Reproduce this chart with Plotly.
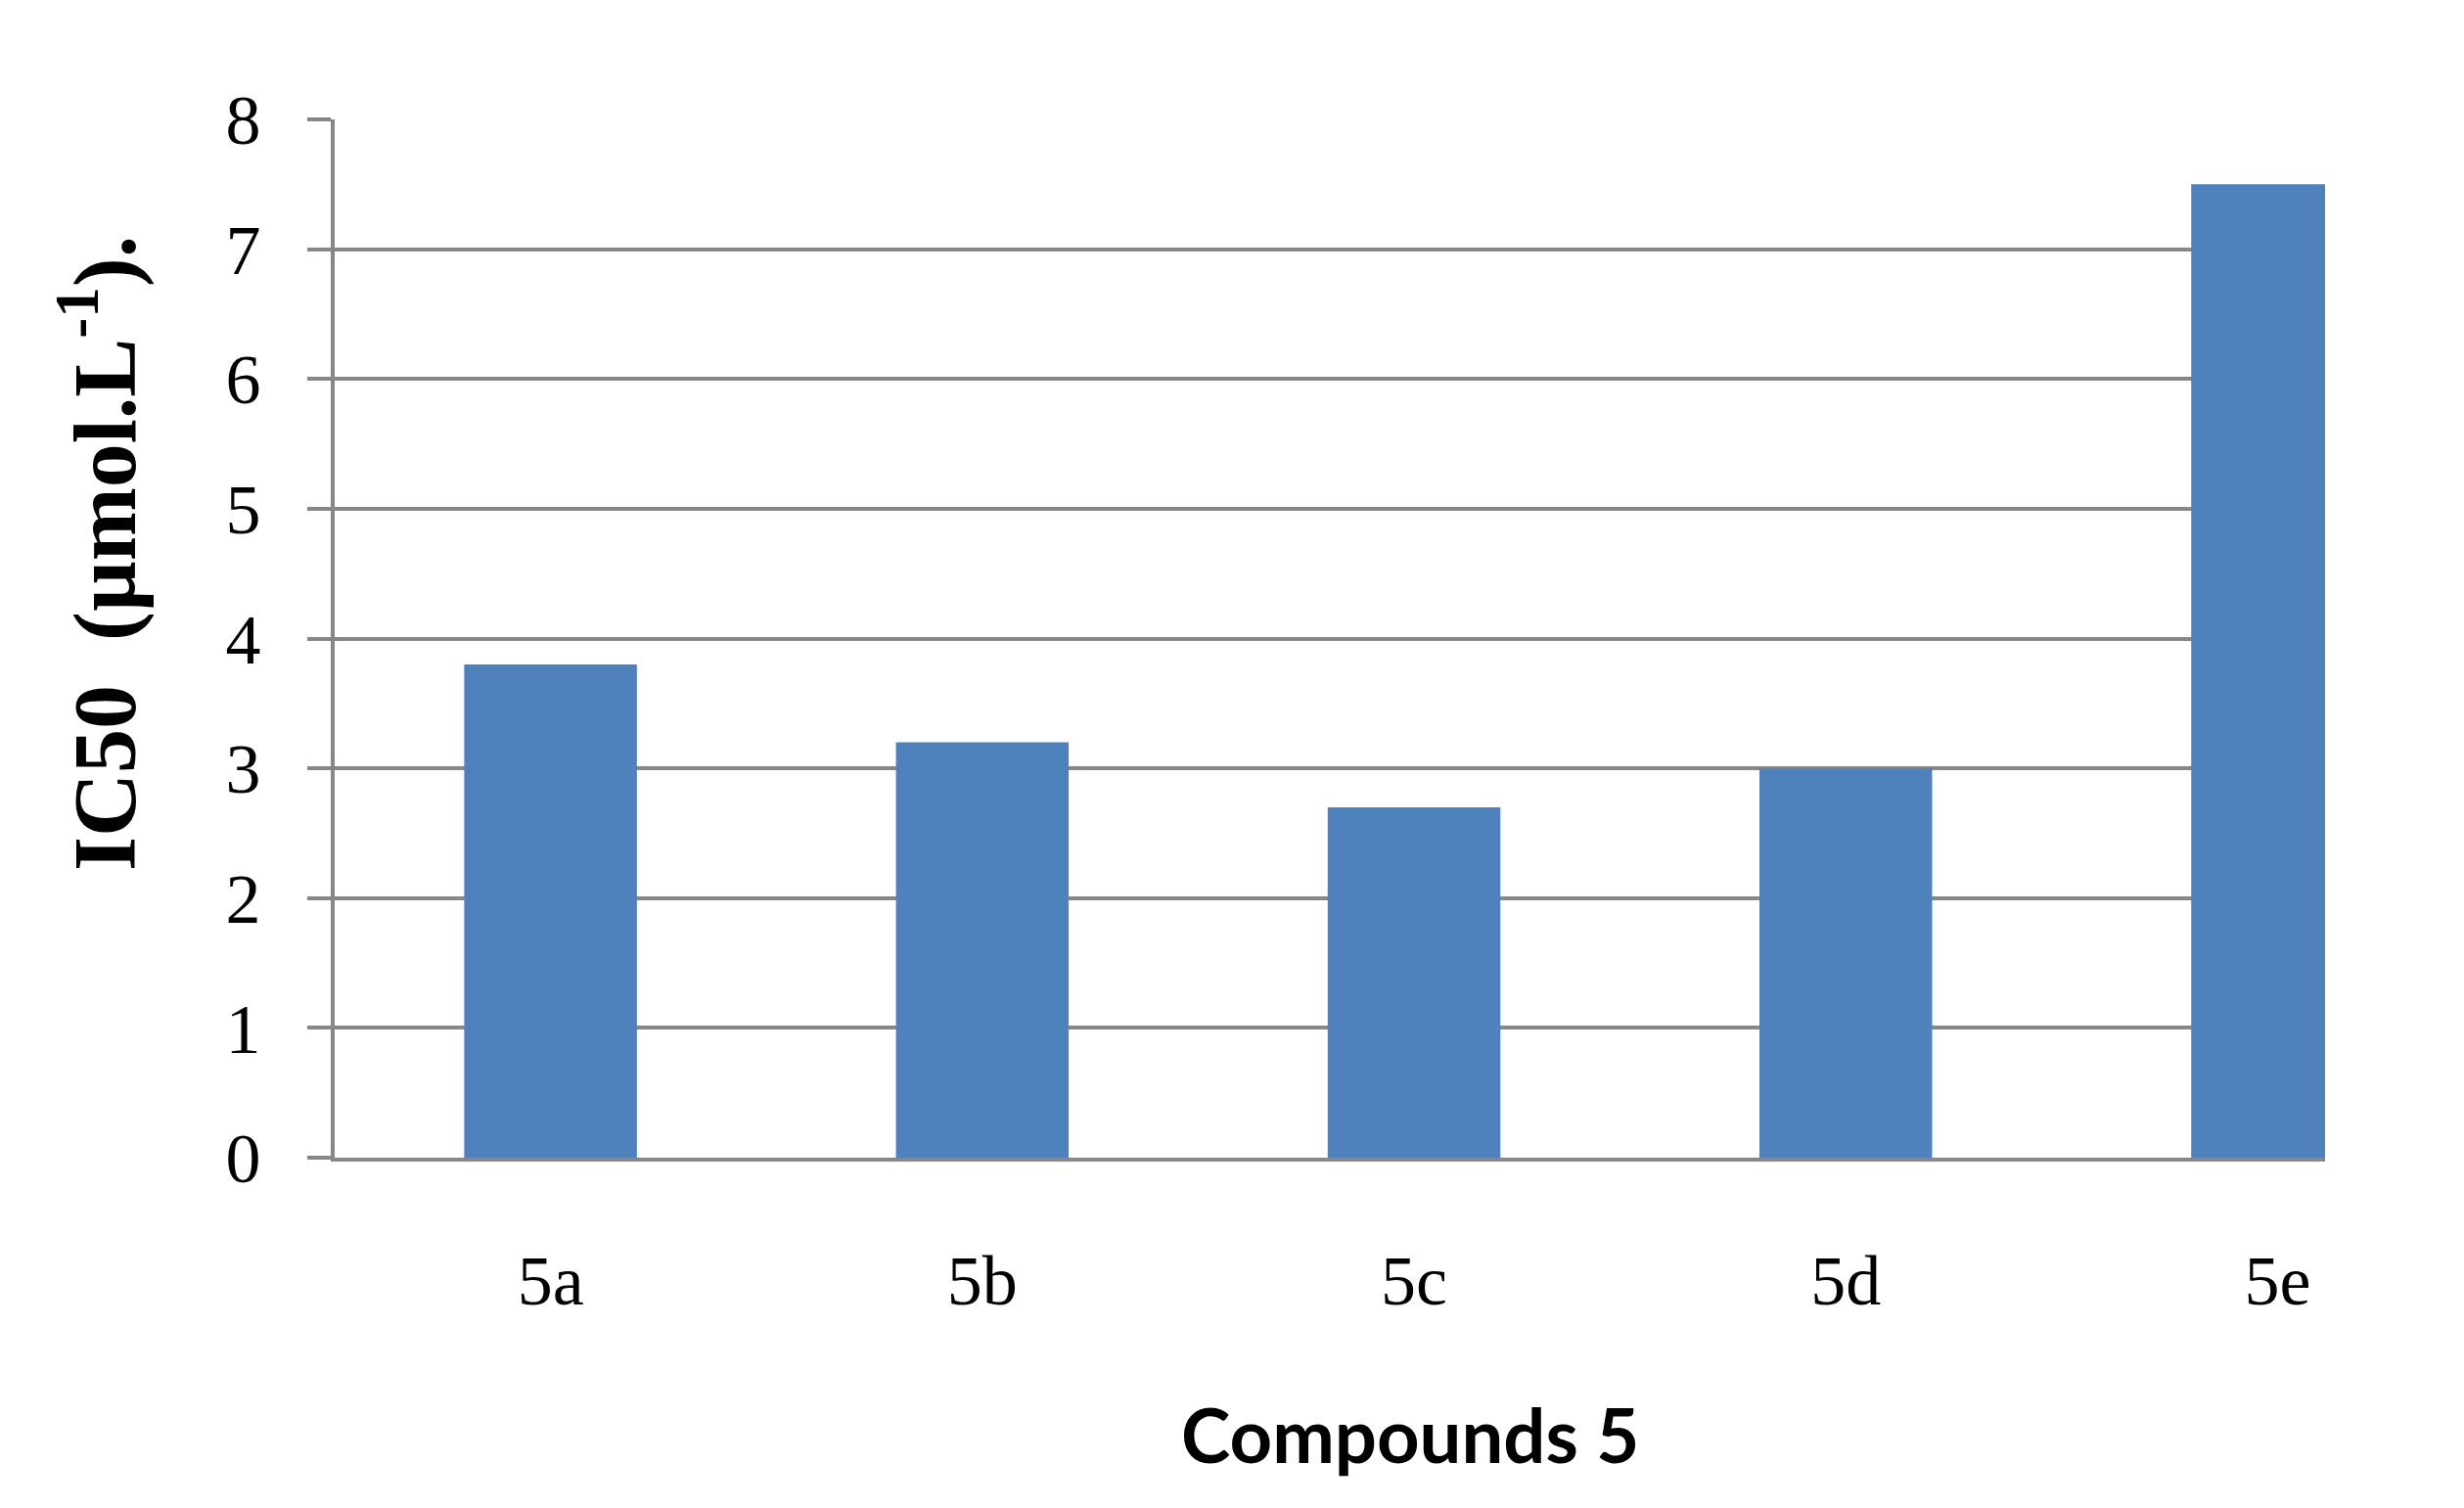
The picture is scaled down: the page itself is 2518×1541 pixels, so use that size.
import plotly.graph_objects as go

categories = ["5a", "5b", "5c", "5d", "5e"]
ic50_values = [3.8, 3.2, 2.7, 3.0, 7.5]
y_tick_values = [0, 1, 2, 3, 4, 5, 6, 7, 8]
y_tick_labels = ["0", "1", "2", "3", "4", "5", "6", "7", "8"]

W, H = 2518, 1541
L, R, T, B = 342, 142, 122, 358
grid = "#878787"

fig = go.Figure()
fig.add_trace(go.Bar(
    x=categories, y=ic50_values,
    marker=dict(color="#4F81BD", line=dict(width=0)),
    width=0.4,
))

fig.update_layout(
    width=W, height=H,
    margin=dict(l=L, r=R, t=T, b=B, autoexpand=False),
    paper_bgcolor="white", plot_bgcolor="white",
    showlegend=False,
    font=dict(family="Liberation Serif", color="black"),
)

fig.update_xaxes(
    type="category",
    range=[-0.5, 4.11],
    showgrid=False,
    showline=True, linecolor=grid, linewidth=4,
    ticks="",
    tickfont=dict(family="Liberation Serif", size=72, color="black"),
    ticklabelstandoff=60,
    zeroline=False,
)
fig.update_yaxes(
    range=[0, 8],
    tickvals=y_tick_values, ticktext=y_tick_labels,
    showgrid=True, gridcolor=grid, gridwidth=3.5,
    showline=True, linecolor=grid, linewidth=4,
    ticks="outside", ticklen=24, tickwidth=3.5, tickcolor=grid,
    tickfont=dict(family="Liberation Serif", size=72, color="black"),
    ticklabelstandoff=33,
    zeroline=False,
)

plot_w = W - L - R
plot_h = H - T - B

fig.add_annotation(
    text="<b>IC50\u00a0\u00a0(µmol.L<sup>-1</sup>).</b>",
    textangle=-90,
    xref="paper", yref="paper",
    x=(101 - L) / plot_w, y=(T + plot_h - 566) / plot_h,
    xanchor="center", yanchor="middle",
    showarrow=False,
    font=dict(family="Liberation Serif", size=90, color="black"),
)
fig.add_annotation(
    text="<b>Compounds 5</b>",
    xref="paper", yref="paper",
    x=(1441 - L) / plot_w, y=(T + plot_h - 1465) / plot_h,
    xanchor="center", yanchor="middle",
    showarrow=False,
    font=dict(family="Lato", size=76, color="black"),
)

fig.write_html("out.html", config={"displayModeBar": False},
               post_script="document.body.style.margin='0';")
